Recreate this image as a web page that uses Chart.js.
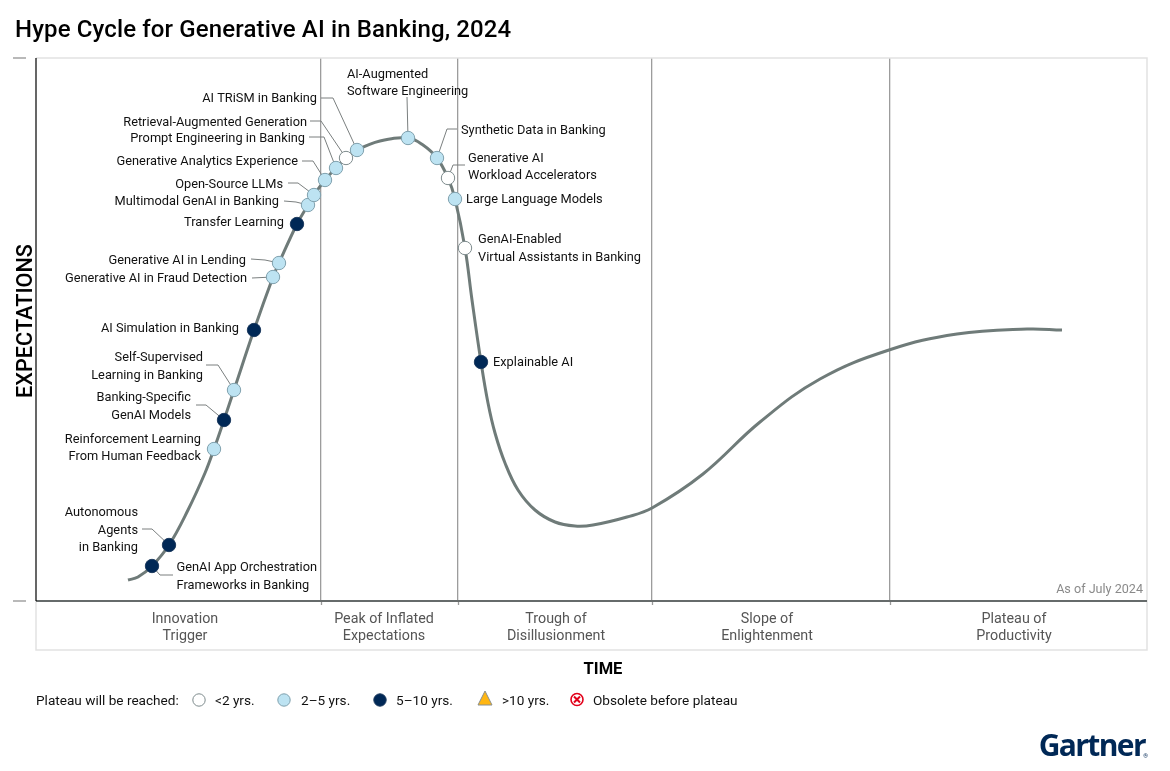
<!DOCTYPE html>
<html>
<head>
<meta charset="utf-8">
<title>Hype Cycle for Generative AI in Banking, 2024</title>
<script src="https://cdn.jsdelivr.net/npm/chart.js@4"></script>
<style>
    html, body { margin: 0; padding: 0; background: #fff; }
    #wrap { position: relative; width: 1170px; height: 771px; }
</style>
</head>
<body>
<div id="wrap"><canvas id="chart" width="1170" height="771"></canvas></div>
<script>
// Courbe du cycle
const curveX = [92, 102, 116, 133, 152, 169, 178, 188, 198, 218, 237, 243, 261, 272, 278, 289, 300, 310, 321, 344, 372, 387, 401, 412, 419, 429, 436, 445, 452, 459, 469, 482, 499, 519, 539, 557, 591, 616, 667, 724, 784, 853, 921, 991, 1026];
const curveY = [21, 24, 35, 56, 91, 128, 152, 181, 211, 271, 324, 338, 377, 396, 406, 421, 433, 443, 451, 460, 463, 456, 443, 423, 402, 353, 301, 239, 198, 168, 138, 111, 91, 79, 75, 76, 84, 93, 127, 179, 222, 251, 267, 272, 271];

// Technologies
const techNames = ['GenAI App Orchestration Frameworks in Banking', 'Autonomous Agents in Banking', 'Reinforcement Learning From Human Feedback', 'Banking-Specific GenAI Models', 'Self-Supervised Learning in Banking', 'AI Simulation in Banking', 'Generative AI in Fraud Detection', 'Generative AI in Lending', 'Transfer Learning', 'Multimodal GenAI in Banking', 'Open-Source LLMs', 'Generative Analytics Experience', 'Prompt Engineering in Banking', 'Retrieval-Augmented Generation', 'AI TRiSM in Banking', 'AI-Augmented Software Engineering', 'Synthetic Data in Banking', 'Generative AI Workload Accelerators', 'Large Language Models', 'GenAI-Enabled Virtual Assistants in Banking', 'Explainable AI'];
const techX = [116, 133, 178, 188, 198, 218, 237, 243, 261, 272, 278, 289, 300, 310, 321, 372, 401, 412, 419, 429, 445];
const techY = [35, 56, 152, 181, 211, 271, 324, 338, 377, 396, 406, 421, 433, 443, 451, 463, 443, 423, 402, 353, 239];
const techPlateau = ['5-10', '5-10', '2-5', '5-10', '2-5', '5-10', '2-5', '2-5', '5-10', '2-5', '2-5', '2-5', '2-5', '<2', '2-5', '2-5', '2-5', '<2', '2-5', '<2', '5-10'];

// Phases
const phaseEdges = [285, 422, 616, 854];
const phaseNames = [['Innovation', 'Trigger'], ['Peak of Inflated', 'Expectations'], ['Trough of', 'Disillusionment'], ['Slope of', 'Enlightenment'], ['Plateau of', 'Productivity']];
const phaseCenters = [149, 348, 520, 731, 978];

const legendLabels = ['<2 yrs.', '2\u20135 yrs.', '5\u201310 yrs.', '>10 yrs.', 'Obsolete before plateau'];

const plateauFill = { '<2': '#ffffff', '2-5': '#bde3f2', '5-10': '#002856' };
const plateauEdge = { '<2': '#7d8a8c', '2-5': '#7fa0ad', '5-10': '#1c3a5e' };

// Etiquettes : décalages en pixels par rapport au point
const labelLayout = {
    'GenAI App Orchestration Frameworks in Banking': { lines: ['GenAI App Orchestration', 'Frameworks in Banking'], align: 'left', dx: 24.5, dy: 1, leader: [[8, 9], [21, 9]] },
    'Autonomous Agents in Banking': { lines: ['Autonomous', 'Agents', 'in Banking'], align: 'right', dx: -31, dy: -33, leader: [[-17, -16], [-27, -16]] },
    'Reinforcement Learning From Human Feedback': { lines: ['Reinforcement Learning', 'From Human Feedback'], align: 'right', dx: -13, dy: -10.5 },
    'Banking-Specific GenAI Models': { lines: ['Banking-Specific', 'GenAI Models'], align: 'right', dx: -33, dy: -23, leader: [[-18, -15], [-28, -15]] },
    'Self-Supervised Learning in Banking': { lines: ['Self-Supervised', 'Learning in Banking'], align: 'right', dx: -31, dy: -33, leader: [[-16, -25], [-28, -25]] },
    'AI Simulation in Banking': { lines: ['AI Simulation in Banking'], align: 'right', dx: -15, dy: -2 },
    'Generative AI in Fraud Detection': { lines: ['Generative AI in Fraud Detection'], align: 'right', dx: -26, dy: 1, leader: [[-21, 1]] },
    'Generative AI in Lending': { lines: ['Generative AI in Lending'], align: 'right', dx: -33, dy: -3, leader: [[-14, -3], [-28, -4]] },
    'Transfer Learning': { lines: ['Transfer Learning'], align: 'right', dx: -13, dy: -2 },
    'Multimodal GenAI in Banking': { lines: ['Multimodal GenAI in Banking'], align: 'right', dx: -29, dy: -4, leader: [[-12, -3], [-24, -4]] },
    'Open-Source LLMs': { lines: ['Open-Source LLMs'], align: 'right', dx: -31, dy: -11, leader: [[-16, -12], [-26, -12]] },
    'Generative Analytics Experience': { lines: ['Generative Analytics Experience'], align: 'right', dx: -27, dy: -19, leader: [[-12, -19], [-23, -19]] },
    'Prompt Engineering in Banking': { lines: ['Prompt Engineering in Banking'], align: 'right', dx: -31, dy: -30.5, leader: [[-12, -31], [-27, -31]] },
    'Retrieval-Augmented Generation': { lines: ['Retrieval-Augmented Generation'], align: 'right', dx: -39, dy: -36, leader: [[-25, -37], [-36, -37]] },
    'AI TRiSM in Banking': { lines: ['AI TRiSM in Banking'], align: 'right', dx: -40, dy: -52, leader: [[-24, -52], [-36, -52]] },
    'AI-Augmented Software Engineering': { lines: ['AI-Augmented', 'Software Engineering'], align: 'left', dx: -61, dy: -64.5, leader: [[-1, -41]] },
    'Synthetic Data in Banking': { lines: ['Synthetic Data in Banking'], align: 'left', dx: 24, dy: -28, leader: [[10, -29], [20, -29]] },
    'Generative AI Workload Accelerators': { lines: ['Generative AI', 'Workload Accelerators'], align: 'left', dx: 20, dy: -20.5, leader: [[5, -13], [17, -13]] },
    'Large Language Models': { lines: ['Large Language Models'], align: 'left', dx: 11, dy: 0 },
    'GenAI-Enabled Virtual Assistants in Banking': { lines: ['GenAI-Enabled', 'Virtual Assistants in Banking'], align: 'left', dx: 13, dy: -9 },
    'Explainable AI': { lines: ['Explainable AI'], align: 'left', dx: 12, dy: 0 }
};

function techDataset(plateau) {
    const points = [];
    techNames.forEach((name, i) => {
        if (techPlateau[i] === plateau) points.push({ x: techX[i], y: techY[i] });
    });
    return {
        type: 'scatter',
        data: points,
        order: 1,
        showLine: false,
        pointRadius: 6.7,
        pointBackgroundColor: plateauFill[plateau],
        pointBorderColor: plateauEdge[plateau],
        pointBorderWidth: 1
    };
}

function drawTextLine(ctx, text, x, y, font, color, align, spacing) {
    ctx.font = font;
    ctx.fillStyle = color;
    ctx.textAlign = align;
    ctx.textBaseline = 'middle';
    ctx.letterSpacing = spacing || '0px';
    ctx.fillText(text, x, y + 1);
    ctx.letterSpacing = '0px';
}

// Cadre, repères et traits de rappel, sous les points
const framePlugin = {
    id: 'frame',
    beforeDatasetsDraw(chart) {
        const ctx = chart.ctx;
        const { left, right, top, bottom } = chart.chartArea;
        const sx = chart.scales.x;
        const sy = chart.scales.y;
        ctx.save();

        // bordures claires
        ctx.strokeStyle = '#e2e2e2';
        ctx.lineWidth = 1.5;
        ctx.beginPath();
        ctx.moveTo(left, top);
        ctx.lineTo(right, top);
        ctx.lineTo(right, bottom + 49);
        ctx.lineTo(left, bottom + 49);
        ctx.lineTo(left, bottom);
        ctx.stroke();

        // petits traits sous l'axe
        ctx.strokeStyle = '#999999';
        ctx.lineWidth = 1.3;
        phaseEdges.forEach(v => {
            const px = Math.round(sx.getPixelForValue(v)) + 0.5;
            ctx.beginPath();
            ctx.moveTo(px, bottom);
            ctx.lineTo(px, bottom + 4);
            ctx.stroke();
        });

        // repères haut et bas de l'axe Y
        ctx.strokeStyle = '#8a8a8a';
        ctx.lineWidth = 1.2;
        [sy.max, sy.min].forEach(v => {
            const py = sy.getPixelForValue(v);
            ctx.beginPath();
            ctx.moveTo(left - 23, py);
            ctx.lineTo(left - 10, py);
            ctx.stroke();
        });

        // axes
        ctx.strokeStyle = '#666b6b';
        ctx.lineWidth = 2;
        ctx.beginPath();
        ctx.moveTo(left, bottom);
        ctx.lineTo(right, bottom);
        ctx.stroke();
        ctx.strokeStyle = '#000000';
        ctx.lineWidth = 1.2;
        ctx.beginPath();
        ctx.moveTo(left, top);
        ctx.lineTo(left, bottom);
        ctx.stroke();

        // traits de rappel
        ctx.strokeStyle = '#7a7f7f';
        ctx.lineWidth = 1;
        techNames.forEach((name, i) => {
            const label = labelLayout[name];
            if (!label.leader) return;
            const px = sx.getPixelForValue(techX[i]);
            const py = sy.getPixelForValue(techY[i]);
            ctx.beginPath();
            ctx.moveTo(px, py);
            label.leader.forEach(p => ctx.lineTo(px + p[0], py + p[1]));
            ctx.stroke();
        });
        ctx.restore();
    },
    afterDraw(chart) {
        const ctx = chart.ctx;
        const { right, bottom } = chart.chartArea;
        const sx = chart.scales.x;
        const sy = chart.scales.y;
        const labelFont = '12.8px Roboto';
        ctx.save();

        drawTextLine(ctx, 'Hype Cycle for Generative AI in Banking, 2024', 15, 30, '500 24px Roboto', '#000000', 'left', '0.13px');

        // étiquettes
        techNames.forEach((name, i) => {
            const label = labelLayout[name];
            const px = sx.getPixelForValue(techX[i]);
            const py = sy.getPixelForValue(techY[i]);
            label.lines.forEach((line, k) => {
                drawTextLine(ctx, line, px + label.dx, py + label.dy + k * 17.4, labelFont, '#111111', label.align);
            });
        });

        // phases
        phaseNames.forEach((lines, i) => {
            const px = sx.getPixelForValue(phaseCenters[i]);
            lines.forEach((line, k) => {
                drawTextLine(ctx, line, px, bottom + 17 + k * 17.5, '14.3px Roboto', '#555555', 'center');
            });
        });

        drawTextLine(ctx, 'As of July 2024', right - 4, bottom - 12, '12.6px Roboto', '#8a8a8a', 'right');
        drawTextLine(ctx, 'TIME', 603, 668.5, '700 16.5px Roboto', '#000000', 'center');

        // titre de l'axe Y
        ctx.save();
        ctx.translate(27, 321);
        ctx.rotate(-Math.PI / 2);
        drawTextLine(ctx, 'EXPECTATIONS', 0, -1, '500 21.7px Roboto', '#000000', 'center');
        ctx.restore();

        // légende
        const ly = 700.5;
        drawTextLine(ctx, 'Plateau will be reached:', 36, ly, '13.6px Roboto', '#111111', 'left');
        const legendDots = [{ x: 199, key: '<2' }, { x: 284, key: '2-5' }, { x: 380, key: '5-10' }];
        legendDots.forEach(d => {
            ctx.beginPath();
            ctx.arc(d.x, ly - 0.5, 6.2, 0, 2 * Math.PI);
            ctx.fillStyle = plateauFill[d.key];
            ctx.fill();
            ctx.strokeStyle = plateauEdge[d.key];
            ctx.lineWidth = 1;
            ctx.stroke();
        });
        ctx.beginPath();
        ctx.moveTo(485, 691);
        ctx.lineTo(492, 705);
        ctx.lineTo(478, 705);
        ctx.closePath();
        ctx.fillStyle = '#ffb612';
        ctx.fill();
        ctx.strokeStyle = '#8a8f8f';
        ctx.lineWidth = 1;
        ctx.stroke();
        ctx.beginPath();
        ctx.arc(577, 699.5, 6, 0, 2 * Math.PI);
        ctx.fillStyle = '#ffffff';
        ctx.fill();
        ctx.strokeStyle = '#e2001a';
        ctx.lineWidth = 1.6;
        ctx.stroke();
        ctx.lineWidth = 2;
        ctx.beginPath();
        ctx.moveTo(574, 696.5);
        ctx.lineTo(580, 702.5);
        ctx.moveTo(580, 696.5);
        ctx.lineTo(574, 702.5);
        ctx.stroke();
        const legendTextX = [215, 301, 396, 502, 593];
        legendLabels.forEach((t, i) => {
            drawTextLine(ctx, t, legendTextX[i], ly, '13.6px Roboto', '#111111', 'left');
        });

        drawTextLine(ctx, 'Gartner', 1145, 746, '700 30px "Open Sans"', '#002856', 'right', '-1.6px');
        drawTextLine(ctx, '\u00ae', 1148, 755, '6px Roboto', '#002856', 'right');
        ctx.restore();
    }
};

new Chart(document.getElementById('chart'), {
    data: {
        datasets: [
            techDataset('<2'),
            techDataset('2-5'),
            techDataset('5-10'),
            {
                type: 'line',
                data: curveX.map((x, i) => ({ x: x, y: curveY[i] })),
                order: 2,
                borderColor: '#6f7b79',
                borderWidth: 3,
                pointRadius: 0,
                tension: 0.4,
                fill: false
            }
        ]
    },
    options: {
        responsive: false,
        animation: false,
        layout: { padding: { left: 36, top: 58, right: 23, bottom: 170 } },
        scales: {
            x: {
                type: 'linear',
                min: 0,
                max: 1111,
                afterBuildTicks(axis) { axis.ticks = phaseEdges.map(v => ({ value: v })); },
                ticks: { display: false },
                grid: { color: '#9c9c9c', lineWidth: 1.3, drawTicks: false },
                border: { display: false }
            },
            y: {
                type: 'linear',
                min: 0,
                max: 543,
                ticks: { display: false },
                grid: { display: false, drawTicks: false },
                border: { display: false }
            }
        },
        plugins: {
            legend: { display: false },
            tooltip: { enabled: false }
        }
    },
    plugins: [framePlugin]
});
</script>
</body>
</html>
